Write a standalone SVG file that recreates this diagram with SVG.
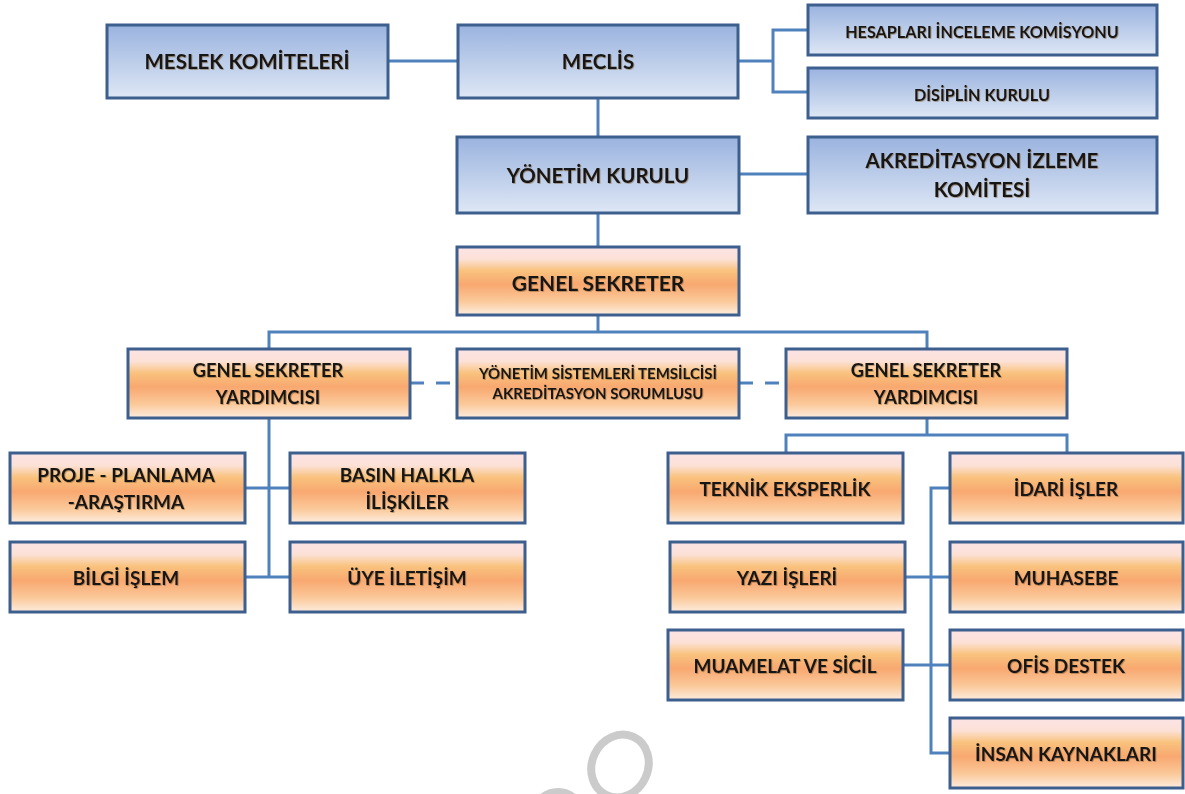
<svg xmlns="http://www.w3.org/2000/svg" width="1185" height="794" viewBox="0 0 1185 794">
<defs>
<linearGradient id="gBlue" x1="0" y1="0" x2="0" y2="1">
<stop offset="0" stop-color="#9AB3DF"/>
<stop offset="1" stop-color="#DEE7F5"/>
</linearGradient>
<linearGradient id="gOrange" x1="0" y1="0" x2="0" y2="1">
<stop offset="0" stop-color="#FCE4E6"/>
<stop offset="0.18" stop-color="#FCE1D6"/>
<stop offset="0.35" stop-color="#F9C27D"/>
<stop offset="0.55" stop-color="#F8A870"/>
<stop offset="0.8" stop-color="#FBC99A"/>
<stop offset="1" stop-color="#FDEDE0"/>
</linearGradient>
<filter id="ts" x="-5%" y="-20%" width="110%" height="140%">
<feDropShadow dx="0.8" dy="0.8" stdDeviation="0.4" flood-color="#7a5a30" flood-opacity="0.6"/>
</filter>
</defs>
<style>
.b{fill:url(#gBlue);stroke:#3C5F8E;stroke-width:3}
.o{fill:url(#gOrange);stroke:#3C5F8E;stroke-width:3}
.c{fill:none;stroke:#4F81BD;stroke-width:3}
.d{fill:none;stroke:#4F81BD;stroke-width:3;stroke-dasharray:14,12}
text{font-family:Lato,"Open Sans","Liberation Sans",sans-serif;font-weight:bold;fill:#141414;text-anchor:middle;dominant-baseline:central;filter:url(#ts)}
.t21{font-size:21px}
.t20{font-size:20.5px}
.t19{font-size:19px}
.t18{font-size:18.3px}
.t16{font-size:16.2px}
.t15{font-size:15px}
.wm{fill:none;stroke:#CBCBCB;stroke-width:8}
</style>
<rect width="1185" height="794" fill="#FFFFFF"/>
<g id="watermark">
<ellipse class="wm" cx="620" cy="766" rx="28" ry="32" transform="rotate(25 620 766)"/>
<ellipse class="wm" cx="558" cy="822" rx="27" ry="30"/>
</g>
<g id="connectors">
<line class="c" x1="388" y1="61" x2="458" y2="61"/>
<path class="c" d="M738 61 H773 M808 30 H773 V92 H808"/>
<line class="c" x1="598" y1="99" x2="598" y2="137"/>
<line class="c" x1="739" y1="174" x2="808" y2="174"/>
<line class="c" x1="598" y1="213" x2="598" y2="247"/>
<path class="c" d="M598 315 V332 M269 349 V332 H927 V349"/>
<line class="d" x1="410" y1="383" x2="457" y2="383"/>
<line class="d" x1="739" y1="383" x2="786" y2="383"/>
<path class="c" d="M269 418 V577 M245 488 H290 M245 577 H290"/>
<path class="c" d="M927 418 V435 M786 452 V435 H1067 V452"/>
<path class="c" d="M950 488 H931 V753 H950 M905 577 H950 M903 665 H950"/>
</g>
<g id="meslek"><rect class="b" x="107" y="25" width="281" height="73"/><text class="t20" x="247" y="61">MESLEK KOMİTELERİ</text></g>
<g id="meclis"><rect class="b" x="458" y="25" width="280" height="73"/><text class="t20" x="598" y="61">MECLİS</text></g>
<g id="hesaplari"><rect class="b" x="808" y="5" width="349" height="50"/><text class="t16" x="982" y="31">HESAPLARI İNCELEME KOMİSYONU</text></g>
<g id="disiplin"><rect class="b" x="808" y="68" width="349" height="50"/><text class="t16" x="982" y="94">DİSİPLİN KURULU</text></g>
<g id="yonetim"><rect class="b" x="457" y="137" width="282" height="76"/><text class="t20" x="598" y="175">YÖNETİM KURULU</text></g>
<g id="akreditasyon"><rect class="b" x="808" y="137" width="349" height="76"/><text class="t20" x="982" y="160">AKREDİTASYON İZLEME</text><text class="t20" x="982" y="189">KOMİTESİ</text></g>
<g id="genel-sekreter"><rect class="o" x="457" y="247" width="282" height="68"/><text class="t21" x="598" y="282">GENEL SEKRETER</text></g>
<g id="gsy-sol"><rect class="o" x="128" y="349" width="282" height="69"/><text class="t18" x="268" y="370">GENEL SEKRETER</text><text class="t18" x="268" y="397">YARDIMCISI</text></g>
<g id="yst"><rect class="o" x="457" y="349" width="282" height="69"/><text class="t15" x="598" y="373">YÖNETİM SİSTEMLERİ TEMSİLCİSİ</text><text class="t15" x="598" y="393">AKREDİTASYON SORUMLUSU</text></g>
<g id="gsy-sag"><rect class="o" x="786" y="349" width="281" height="69"/><text class="t18" x="926" y="370">GENEL SEKRETER</text><text class="t18" x="926" y="397">YARDIMCISI</text></g>
<g id="proje"><rect class="o" x="10" y="453" width="235" height="70"/><text class="t19" x="126" y="474">PROJE - PLANLAMA</text><text class="t19" x="126" y="501">-ARAŞTIRMA</text></g>
<g id="basin"><rect class="o" x="290" y="453" width="235" height="70"/><text class="t19" x="407" y="474">BASIN HALKLA</text><text class="t19" x="407" y="501">İLİŞKİLER</text></g>
<g id="bilgi"><rect class="o" x="10" y="542" width="235" height="70"/><text class="t19" x="126" y="577">BİLGİ İŞLEM</text></g>
<g id="uye"><rect class="o" x="290" y="542" width="235" height="70"/><text class="t19" x="407" y="577">ÜYE İLETİŞİM</text></g>
<g id="teknik"><rect class="o" x="668" y="453" width="235" height="70"/><text class="t19" x="785" y="488">TEKNİK EKSPERLİK</text></g>
<g id="idari"><rect class="o" x="950" y="453" width="233" height="70"/><text class="t19" x="1066" y="488">İDARİ İŞLER</text></g>
<g id="yazi"><rect class="o" x="670" y="542" width="235" height="70"/><text class="t19" x="787" y="577">YAZI İŞLERİ</text></g>
<g id="muhasebe"><rect class="o" x="950" y="542" width="233" height="70"/><text class="t19" x="1066" y="577">MUHASEBE</text></g>
<g id="muamelat"><rect class="o" x="668" y="630" width="235" height="70"/><text class="t19" x="785" y="665">MUAMELAT VE SİCİL</text></g>
<g id="ofis"><rect class="o" x="950" y="630" width="233" height="70"/><text class="t19" x="1066" y="665">OFİS DESTEK</text></g>
<g id="insan"><rect class="o" x="950" y="718" width="233" height="70"/><text class="t19" x="1066" y="753">İNSAN KAYNAKLARI</text></g>
</svg>
